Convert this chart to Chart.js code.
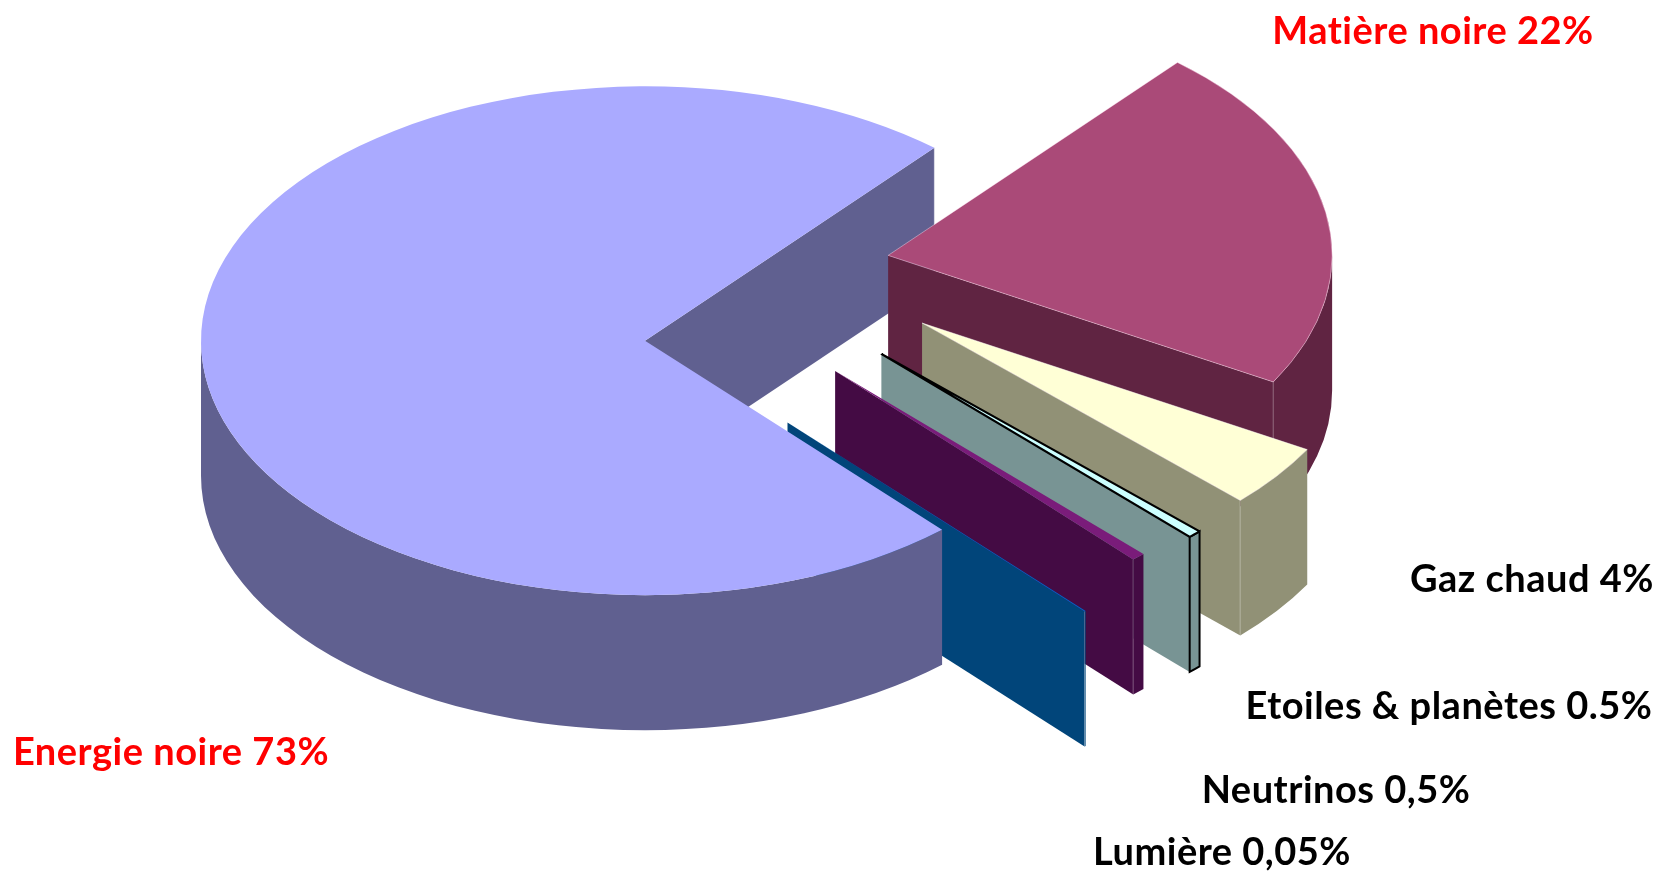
<!DOCTYPE html>
<html lang="fr">
<head>
<meta charset="utf-8">
<title>Composition de l'Univers</title>
<script src="https://cdn.jsdelivr.net/npm/chart.js@4.4.1/dist/chart.umd.min.js"></script>
<style>
  html, body { margin: 0; padding: 0; background: #ffffff; overflow: hidden; }
  canvas { display: block; }
</style>
</head>
<body>
<canvas id="univers" width="1663" height="874"></canvas>
<script>
// Composition of the Universe (%)
const categories = ['Energie noire', 'Matière noire', 'Gaz chaud', 'Etoiles & planètes', 'Neutrinos', 'Lumière'];
const shares = [73, 22, 4, 0.5, 0.5, 0.05];
const shareTexts = ['73%', '22%', '4%', '0.5%', '0,5%', '0,05%'];

// Appearance of each slice
const TOP_COLORS  = ['#AAAAFF', '#AA4A78', '#FFFFD6', '#CCFFFF', '#7A1C7A', '#0066CC'];
const SIDE_COLORS = ['#606090', '#602442', '#919176', '#789494', '#440B44', '#01457A'];
const EDGE_COLORS = ['rgba(0,0,0,0)', 'rgba(255,225,240,0.55)', 'rgba(255,255,255,0.6)', '#000000', 'rgba(0,0,0,0)', 'rgba(0,0,0,0)'];
const EDGE_WIDTHS = [0, 1, 1, 3, 0, 0];
const RIM_OUTLINE = [null, null, null, '#000000', null, null];
const EXPLODE = [115, 130, 203, 172, 110, 41];   // radial pull-out of each slice (px)
const LIFT    = [10, -62, -77, -46, -5, 75];      // vertical shift of each slice (px)

// Painting sequence, back to front: [slice, faces]
const PAINT_STEPS = [
  [0, ['cuts']],
  [1, ['cuts', 'rim', 'top']],
  [2, ['cuts', 'rim', 'top']],
  [3, ['cuts', 'rim', 'top']],
  [4, ['cuts', 'rim', 'top']],
  [5, ['cuts', 'rim', 'top']],
  [0, ['rim', 'top']]
];

const VIEW = { tilt: 0.573, depth: 135, shiftY: 107, radius: 444 };

const LABEL_STYLE = {
  font: 'bold 38px Lato',
  spacing: '0.5px',
  colors: ['#FF0000', '#FF0000', '#000000', '#000000', '#000000', '#000000'],
  // centre x, baseline y
  pos: [[171, 765], [1433, 44], [1532, 592], [1449, 719], [1336, 803], [1222, 865]]
};

function frontSpans(a, b) {
  // parts of [a, b] where the rim faces the viewer (sin > 0)
  const spans = [];
  for (let n = -2; n <= 3; n++) {
    const lo = Math.max(a, 2 * Math.PI * n);
    const hi = Math.min(b, 2 * Math.PI * n + Math.PI);
    if (hi > lo) spans.push([lo, hi]);
  }
  return spans;
}

function drawRim(ctx, g, i) {
  const k = VIEW.tilt, D = VIEW.depth;
  const { ax, ay } = g;
  const R = g.p.outerRadius;
  ctx.save();
  ctx.fillStyle = SIDE_COLORS[i];
  for (const [t0, t1] of frontSpans(g.p.startAngle, g.p.endAngle)) {
    ctx.beginPath();
    ctx.ellipse(ax, ay, R, R * k, 0, t0, t1, false);
    ctx.ellipse(ax, ay + D, R, R * k, 0, t1, t0, true);
    ctx.closePath();
    ctx.fill();
    if (RIM_OUTLINE[i]) {
      ctx.strokeStyle = RIM_OUTLINE[i];
      ctx.lineWidth = 2;
      ctx.stroke();
    }
  }
  ctx.restore();
}

function drawCuts(ctx, g, i) {
  const k = VIEW.tilt, D = VIEW.depth;
  const { ax, ay } = g;
  const R = g.p.outerRadius, a = g.p.startAngle, b = g.p.endAngle;
  ctx.save();
  ctx.fillStyle = SIDE_COLORS[i];
  const face = t => {
    const ox = ax + R * Math.cos(t), oy = ay + R * k * Math.sin(t);
    ctx.beginPath();
    ctx.moveTo(ax, ay);
    ctx.lineTo(ox, oy);
    ctx.lineTo(ox, oy + D);
    ctx.lineTo(ax, ay + D);
    ctx.closePath();
    ctx.fill();
    // light edge where the cut meets the rim
    ctx.beginPath();
    ctx.moveTo(ox, oy);
    ctx.lineTo(ox, oy + D);
    ctx.strokeStyle = 'rgba(255,255,255,0.45)';
    ctx.lineWidth = 1;
    ctx.stroke();
  };
  if (Math.cos(a) < 0) face(a);
  if (Math.cos(b) > 0) face(b);
  ctx.restore();
}

function drawTop(ctx, g) {
  ctx.save();
  ctx.translate(g.ax, g.ay);
  ctx.scale(1, VIEW.tilt);
  ctx.translate(-g.p.x, -g.p.y);
  g.arc.draw(ctx);
  ctx.restore();
}

const pie3d = {
  id: 'pie3d',
  beforeDatasetsDraw(chart) {
    const ctx = chart.ctx;
    const k = VIEW.tilt;
    const meta = chart.getDatasetMeta(0);
    const geo = meta.data.map((arc, i) => {
      const p = arc.getProps(['x', 'y', 'startAngle', 'endAngle', 'outerRadius'], true);
      const mid = (p.startAngle + p.endAngle) / 2;
      return {
        arc, p,
        ax: p.x + EXPLODE[i] * Math.cos(mid),
        ay: p.y - VIEW.shiftY + EXPLODE[i] * Math.sin(mid) * k + LIFT[i]
      };
    });
    PAINT_STEPS.forEach(([i, faces]) => {
      const g = geo[i];
      if (faces.includes('cuts')) drawCuts(ctx, g, i);
      if (faces.includes('rim')) drawRim(ctx, g, i);
      if (faces.includes('top')) drawTop(ctx, g);
    });
    return false;
  },
  afterDraw(chart) {
    const ctx = chart.ctx;
    ctx.save();
    ctx.font = LABEL_STYLE.font;
    ctx.letterSpacing = LABEL_STYLE.spacing;
    ctx.textAlign = 'center';
    ctx.textBaseline = 'alphabetic';
    categories.forEach((name, i) => {
      ctx.fillStyle = LABEL_STYLE.colors[i];
      const [x, y] = LABEL_STYLE.pos[i];
      ctx.fillText(name + ' ' + shareTexts[i], x, y);
    });
    ctx.restore();
  }
};

new Chart(document.getElementById('univers'), {
  type: 'pie',
  data: {
    labels: categories,
    datasets: [{
      data: shares,
      backgroundColor: TOP_COLORS,
      borderColor: EDGE_COLORS,
      borderWidth: EDGE_WIDTHS,
      radius: VIEW.radius
    }]
  },
  options: {
    responsive: false,
    animation: false,
    rotation: 138,
    layout: { padding: { left: 0, right: 143, top: 0, bottom: 0 } },
    plugins: {
      legend: { display: false },
      tooltip: { enabled: false }
    },
    events: []
  },
  plugins: [pie3d]
});
</script>
</body>
</html>
